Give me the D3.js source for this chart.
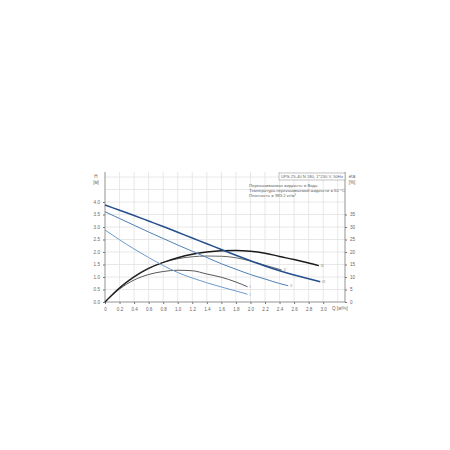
<!DOCTYPE html>
<html><head><meta charset="utf-8">
<script src="https://cdn.jsdelivr.net/npm/d3@7"></script>
<style>body{margin:0;background:#fff}svg{display:block}text{font-family:"Liberation Sans",Arial,sans-serif}</style>
</head><body><svg id="c" width="450" height="450"></svg>
<script>
// Flow values (m³/h) and curves
const q3 = [0,0.2,0.4,0.6,0.8,1.0,1.2,1.4,1.6,1.8,2.0,2.2,2.4,2.6,2.8,2.96];
const h3 = [3.88,3.67,3.46,3.24,3.02,2.79,2.56,2.33,2.10,1.87,1.65,1.44,1.25,1.08,0.93,0.81];
const q2 = [0,0.2,0.4,0.6,0.8,1.0,1.2,1.4,1.6,1.8,2.0,2.2,2.4,2.52];
const h2 = [3.61,3.34,3.07,2.80,2.54,2.28,2.03,1.78,1.53,1.31,1.10,0.92,0.74,0.65];
const q1 = [0,0.2,0.4,0.6,0.8,1.0,1.2,1.4,1.6,1.8,1.96];
const h1 = [2.88,2.49,2.12,1.78,1.46,1.18,0.96,0.77,0.60,0.44,0.31];
const qe3 = [0,0.2,0.4,0.6,0.8,1.0,1.2,1.4,1.6,1.8,2.0,2.2,2.4,2.6,2.8,2.94];
const eta3 = [0,5.6,10.0,13.4,15.8,17.7,19.1,20.0,20.5,20.6,20.3,19.5,18.2,17.0,15.6,14.5];
const qe2 = [0,0.2,0.4,0.6,0.8,1.0,1.2,1.4,1.6,1.8,2.0,2.2,2.43];
const eta2 = [0,5.8,10.3,13.6,15.9,17.3,18.1,18.4,18.3,17.7,16.4,14.7,12.8];
const qe1 = [0,0.2,0.4,0.6,0.8,1.0,1.2,1.4,1.6,1.8,1.96];
const eta1 = [0,5.2,8.8,11.0,12.2,12.7,12.5,11.2,9.9,8.0,6.1];
const xTicks = [0,0.2,0.4,0.6,0.8,1.0,1.2,1.4,1.6,1.8,2.0,2.2,2.4,2.6,2.8,3.0];
const hTicks = [0,0.5,1.0,1.5,2.0,2.5,3.0,3.5,4.0];
const etaTicks = [0,5,10,15,20,25,30,35];
const infoLines = ["Перекачиваемая жидкость = Вода","Температура перекачиваемой жидкости = 60 °C","Плотность = 983.2 кг/м³"];
const title = "UPS 25-40 N 180, 1*230 V, 50Hz";

const svg = d3.select("#c");
const L=105, R=345, T=172, B=302;
const x = d3.scaleLinear().domain([0,3.3]).range([L,R]);
const y = d3.scaleLinear().domain([0,5.2]).range([B,T]);
const ye = d3.scaleLinear().domain([0,52]).range([B,T]);

// grid
const grid = svg.append("g").attr("stroke","#e2e2e2").attr("stroke-width",0.8);
d3.range(1,17).forEach(i=>{const v=i*0.2; grid.append("line").attr("x1",x(v)).attr("x2",x(v)).attr("y1",T).attr("y2",B);});
d3.range(1,11).forEach(i=>{const v=i*0.5; grid.append("line").attr("x1",L).attr("x2",R).attr("y1",y(v)).attr("y2",y(v));});

// axes
const fmt = d3.format(".1f");
const gx = svg.append("g").attr("transform",`translate(0,${B})`)
  .call(d3.axisBottom(x).tickValues(xTicks).tickSize(2).tickFormat(d=>d===0?"0":fmt(d)));
const gl = svg.append("g").attr("transform",`translate(${L},0)`)
  .call(d3.axisLeft(y).tickValues(hTicks).tickSize(2).tickFormat(fmt));
const gr = svg.append("g").attr("transform",`translate(${R},0)`)
  .call(d3.axisRight(ye).tickValues(etaTicks).tickSize(2));
[gx,gl,gr].forEach(g=>{
  g.selectAll("path").attr("stroke","#777").attr("stroke-width",0.8);
  g.selectAll("line").attr("stroke","#777");
  g.selectAll("text").attr("font-size",4.6).attr("fill","#666");
});
gx.select(".domain").attr("d",`M${L},0H${R}`);
gx.selectAll("text").attr("dy","0.9em");
gl.select(".domain").attr("d",`M0,${B}V${T}`);
gr.select(".domain").attr("d",`M0,${B}V${T}`);

// axis titles
const at = (t,px,py,anchor)=>svg.append("text").attr("x",px).attr("y",py).attr("font-size",4.6).attr("fill","#666").attr("text-anchor",anchor||"start").text(t);
at("H",96,178,"middle"); at("[м]",96,184,"middle");
at("eta",352,178,"middle"); at("[%]",352,184,"middle");
at("Q [м³/ч]",332,310);

// info box
svg.append("rect").attr("x",279).attr("y",173).attr("width",66).attr("height",7).attr("fill","#fff").attr("stroke","#999").attr("stroke-width",0.6);
svg.append("text").attr("x",281).attr("y",178.4).attr("font-size",4.4).attr("fill","#666")
  .attr("textLength",62).attr("lengthAdjust","spacingAndGlyphs").text(title);
infoLines.forEach((t,i)=>svg.append("text").attr("x",249).attr("y",186.5+i*5.2).attr("font-size",4.3).attr("fill","#666").text(t));

// curves
const lineH = d3.line().x(d=>x(d[0])).y(d=>y(d[1])).curve(d3.curveMonotoneX);
const lineE = d3.line().x(d=>x(d[0])).y(d=>ye(d[1])).curve(d3.curveMonotoneX);
const zip=(a,b)=>a.map((v,i)=>[v,b[i]]);
const curves = [
  {d:zip(qe1,eta1),f:lineE,c:"#444",w:0.9,lab:"I"},
  {d:zip(qe2,eta2),f:lineE,c:"#555",w:0.9,lab:"II"},
  {d:zip(qe3,eta3),f:lineE,c:"#1a1a1a",w:1.3,lab:"III"},
  {d:zip(q1,h1),f:lineH,c:"#6d9bcc",w:1.0,lab:"I"},
  {d:zip(q2,h2),f:lineH,c:"#4f7fb4",w:1.0,lab:"II"},
  {d:zip(q3,h3),f:lineH,c:"#244f8c",w:1.5,lab:"III"}
];
curves.forEach(cv=>{
  svg.append("path").attr("d",cv.f(cv.d)).attr("fill","none").attr("stroke",cv.c).attr("stroke-width",cv.w);
  const last=cv.d[cv.d.length-1];
  const yy = cv.f===lineH?y(last[1]):ye(last[1]);
  svg.append("text").attr("x",x(last[0])+2).attr("y",yy+1.3).attr("font-size",3.6).attr("fill","#888").text(cv.lab);
});
</script></body></html>
